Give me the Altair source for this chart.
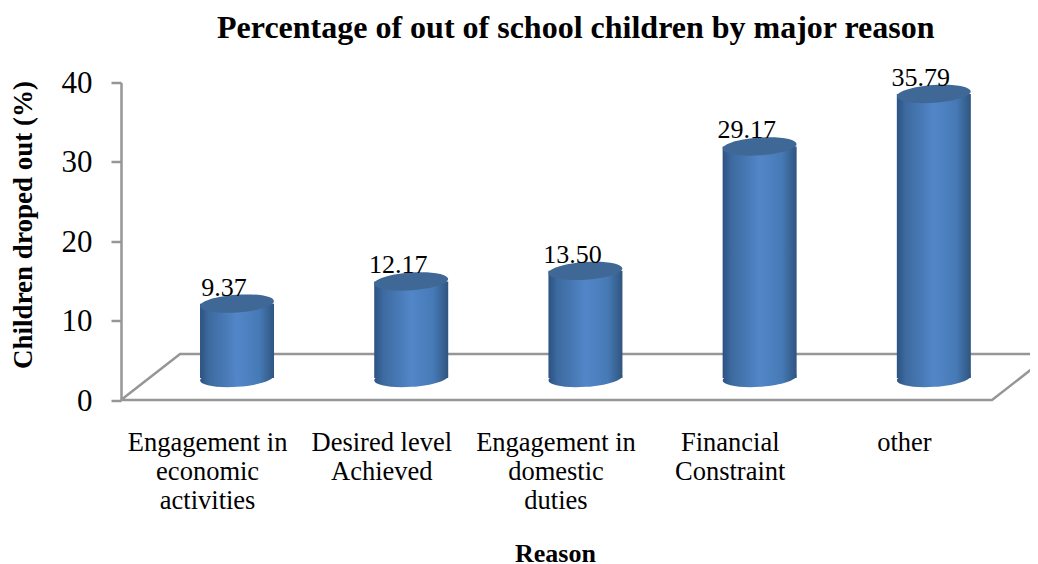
import json
import altair as alt
import pandas as pd

reasons = [["Engagement in", "economic", "activities"], ["Desired level", "Achieved"],
           ["Engagement in", "domestic", "duties"], ["Financial", "Constraint"], ["other"]]
values = [9.37, 12.17, 13.50, 29.17, 35.79]
label_text = ["9.37", "12.17", "13.50", "29.17", "35.79"]
slots = [0.5, 1.5, 2.5, 3.5, 4.5]
floor_x = [0, 0.339, 5.339, 5, 0]
floor_y = [0, 5.8, 5.8, 0, 0]
depth_x = 0.166
base_y = 2.77

SERIF = "Liberation Serif"
GREY = "#969696"

df = pd.DataFrame({"slot": slots, "value": values, "label": label_text})
df["xc"] = df["slot"] + depth_x
df["y0"] = base_y
df["top"] = df["value"] + base_y
floor = pd.DataFrame({"fx": floor_x, "fy": floor_y, "o": range(5)})

x_scale = alt.Scale(domain=[0, 5.218], nice=False, zero=False, padding=0)
y_scale = alt.Scale(domain=[0, 40], nice=False, padding=0)

side = alt.Gradient(gradient="linear", x1=0, x2=1, y1=0, y2=0, stops=[
    alt.GradientStop(offset=0, color="#2c5282"),
    alt.GradientStop(offset=0.12, color="#3d6a9f"),
    alt.GradientStop(offset=0.5, color="#5286c8"),
    alt.GradientStop(offset=0.8, color="#467ab6"),
    alt.GradientStop(offset=1, color="#30557f"),
])
ellipse = "M-1,0A1,0.24 0 1,1 1,0A1,0.24 0 1,1 -1,0Z"

x_labels = json.dumps(reasons)
x_axis = alt.Axis(
    values=slots, labelExpr=f"{x_labels}[floor(datum.value)]",
    domain=False, ticks=False, grid=False, labelAngle=0, labelAlign="center",
    labelFont=SERIF, labelFontSize=26.5, labelColor="black", labelPadding=29,
    labelLineHeight=29, labelOverlap=False, labelFlush=False, labelOffset=-1,
    title="Reason", titleFont=SERIF, titleFontSize=26, titleFontWeight="bold",
    titleColor="black", titleX=434, titleY=161, titleAlign="center", titleBaseline="alphabetic",
)
y_axis = alt.Axis(
    values=[0, 10, 20, 30, 40], grid=False, domainColor=GREY, domainWidth=2.5,
    tickColor=GREY, tickWidth=2.5, tickSize=10, labelFont=SERIF, labelFontSize=31,
    labelColor="black", labelPadding=19, labelOffset=1,
    title="Children droped out (%)", titleFont=SERIF, titleFontSize=27, titleFontWeight="bold",
    titleColor="black", titleX=-90, titleY=142, titleAlign="center", titleBaseline="alphabetic",
)

floor_line = alt.Chart(floor).mark_line(color=GREY, strokeWidth=2.5).encode(
    x=alt.X("fx:Q", scale=x_scale, axis=x_axis),
    y=alt.Y("fy:Q", scale=y_scale, axis=y_axis),
    order="o:Q",
)
bars = alt.Chart(df).mark_bar(fill=side, size=74).encode(
    x=alt.X("xc:Q", scale=x_scale), y=alt.Y("top:Q", scale=y_scale), y2="y0:Q",
)
bottoms = alt.Chart(df).mark_point(shape=ellipse, size=5476, filled=True, fill=side,
                                   opacity=1, strokeWidth=0, angle=356).encode(
    x=alt.X("xc:Q", scale=x_scale), y=alt.Y("y0:Q", scale=y_scale),
)
tops = alt.Chart(df).mark_point(shape=ellipse, size=5476, filled=True, fill="#3f6896",
                                opacity=1, strokeWidth=0, angle=356).encode(
    x=alt.X("xc:Q", scale=x_scale), y=alt.Y("top:Q", scale=y_scale),
)
labels = alt.Chart(df).mark_text(font=SERIF, fontSize=26, color="black", baseline="alphabetic",
                                 dx=-13, dy=-8).encode(
    x=alt.X("xc:Q", scale=x_scale), y=alt.Y("top:Q", scale=y_scale), text="label:N",
)

chart = alt.layer(floor_line, bottoms, bars, tops, labels).properties(
    width=909, height=317.5,
    title=alt.TitleParams("Percentage of out of school children by major reason",
                          font=SERIF, fontSize=32, fontWeight="bold", color="black",
                          anchor="start", frame="group", dx=96, dy=-20, offset=0),
    padding={"left": 113, "top": 74.5, "right": 0, "bottom": 164},
    autosize=alt.AutoSizeParams(type="none"),
).configure_view(stroke=None)

chart.save("out.html", embed_options={"renderer": "svg", "actions": False})
